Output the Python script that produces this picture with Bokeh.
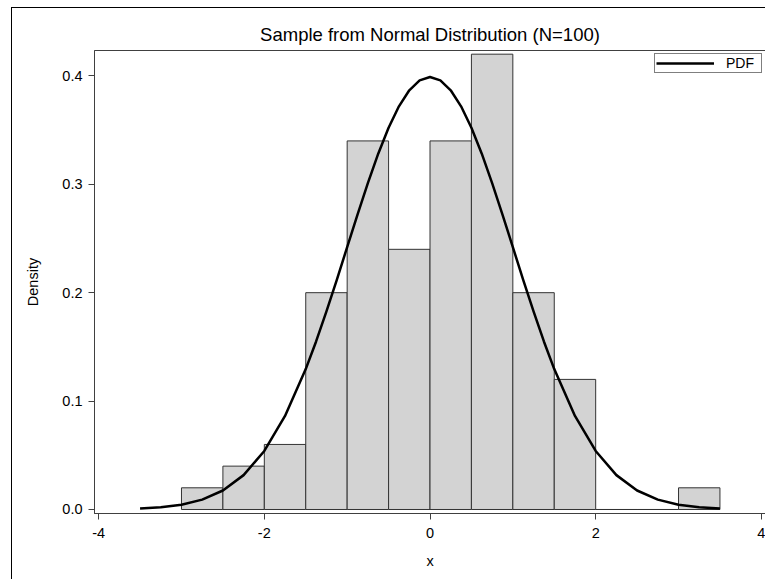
from bokeh.plotting import figure
from bokeh.models import Range1d, FixedTicker, Legend, LegendItem, NumeralTickFormatter
from bokeh.embed import file_html
from bokeh.resources import INLINE

# Histogram bins (left/right edges) and density heights
bin_left = [-3.0, -2.5, -2.0, -1.5, -1.0, -0.5, 0.0, 0.5, 1.0, 1.5, 2.0, 2.5, 3.0]
bin_right = [-2.5, -2.0, -1.5, -1.0, -0.5, 0.0, 0.5, 1.0, 1.5, 2.0, 2.5, 3.0, 3.5]
density = [0.02, 0.04, 0.06, 0.20, 0.34, 0.24, 0.34, 0.42, 0.20, 0.12, 0.0, 0.0, 0.02]

# PDF curve points
pdf_x = [-3.5, -3.25, -3.0, -2.75, -2.5, -2.25, -2.0, -1.75, -1.5, -1.375, -1.25, -1.125,
         -1.0, -0.875, -0.75, -0.625, -0.5, -0.375, -0.25, -0.125, 0.0,
         0.125, 0.25, 0.375, 0.5, 0.625, 0.75, 0.875, 1.0, 1.125, 1.25, 1.375, 1.5,
         1.75, 2.0, 2.25, 2.5, 2.75, 3.0, 3.25, 3.5]
pdf_y = [0.0009, 0.0020, 0.0044, 0.0091, 0.0175, 0.0317, 0.0540, 0.0863, 0.1295, 0.1550,
         0.1827, 0.2119, 0.2420, 0.2721, 0.3011, 0.3282, 0.3521, 0.3719, 0.3867, 0.3958,
         0.3989,
         0.3958, 0.3867, 0.3719, 0.3521, 0.3282, 0.3011, 0.2721, 0.2420, 0.2119, 0.1827,
         0.1550, 0.1295, 0.0863, 0.0540, 0.0317, 0.0175, 0.0091, 0.0044, 0.0020, 0.0009]

x_ticks = [-4, -2, 0, 2, 4]
x_tick_labels = ["-4", "-2", "0", "2", "4"]
y_ticks = [0.0, 0.1, 0.2, 0.3, 0.4]
title_text = "Sample from Normal Distribution (N=100)"

FONT = "Liberation Sans"

p = figure(width=754, height=572, output_backend="svg", toolbar_location=None,
           x_range=Range1d(-4.05, 4.05), y_range=Range1d(-0.0037, 0.4234),
           title=title_text, min_border_left=82, min_border_right=1,
           min_border_top=42, min_border_bottom=67)
p.styles = {"margin-left": "11px", "margin-top": "7px",
            "border-left": "1px solid black", "border-top": "1px solid black"}

p.title.align = "center"
p.title.text_font = FONT
p.title.text_font_size = "18.5px"
p.title.text_font_style = "normal"
p.title.text_color = "black"
p.title.standoff = 12

p.grid.visible = False
p.outline_line_color = "#404040"
p.outline_line_width = 1

p.quad(left=bin_left, right=bin_right, bottom=0, top=density,
       fill_color="#d3d3d3", line_color="#333333", line_width=1)
r = p.line(pdf_x, pdf_y, line_color="black", line_width=2.5, line_join="round")

for ax in (p.xaxis[0], p.yaxis[0]):
    ax.axis_line_color = "#404040"
    ax.major_tick_line_color = "#404040"
    ax.minor_tick_line_color = None
    ax.major_tick_out = 6
    ax.major_tick_in = 0
    ax.major_label_text_font = FONT
    ax.major_label_text_font_size = "14.5px"
    ax.major_label_text_color = "black"
    ax.axis_label_text_font = FONT
    ax.axis_label_text_font_size = "14.5px"
    ax.axis_label_text_font_style = "normal"
    ax.axis_label_text_color = "black"

p.xaxis[0].ticker = FixedTicker(ticks=x_ticks)
p.xaxis[0].major_label_overrides = dict(zip(x_ticks, x_tick_labels))
p.yaxis[0].ticker = FixedTicker(ticks=y_ticks)
p.yaxis[0].formatter = NumeralTickFormatter(format="0.0")
p.xaxis[0].axis_label = "x"
p.yaxis[0].axis_label = "Density"
p.xaxis[0].major_label_standoff = 8
p.yaxis[0].major_label_standoff = 6
p.xaxis[0].axis_label_standoff = 12
p.yaxis[0].axis_label_standoff = 18

legend = Legend(items=[LegendItem(label="PDF", renderers=[r])], location="top_right")
legend.label_text_font = FONT
legend.label_text_font_size = "14px"
legend.label_text_color = "black"
legend.border_line_color = "black"
legend.border_line_width = 1
legend.margin = 3
legend.padding = 1
legend.spacing = 0
legend.glyph_width = 58
legend.glyph_height = 14
legend.label_standoff = 12
legend.label_width = 34
legend.label_height = 14
p.add_layout(legend)

open("out.html", "w").write(file_html(p, INLINE))
